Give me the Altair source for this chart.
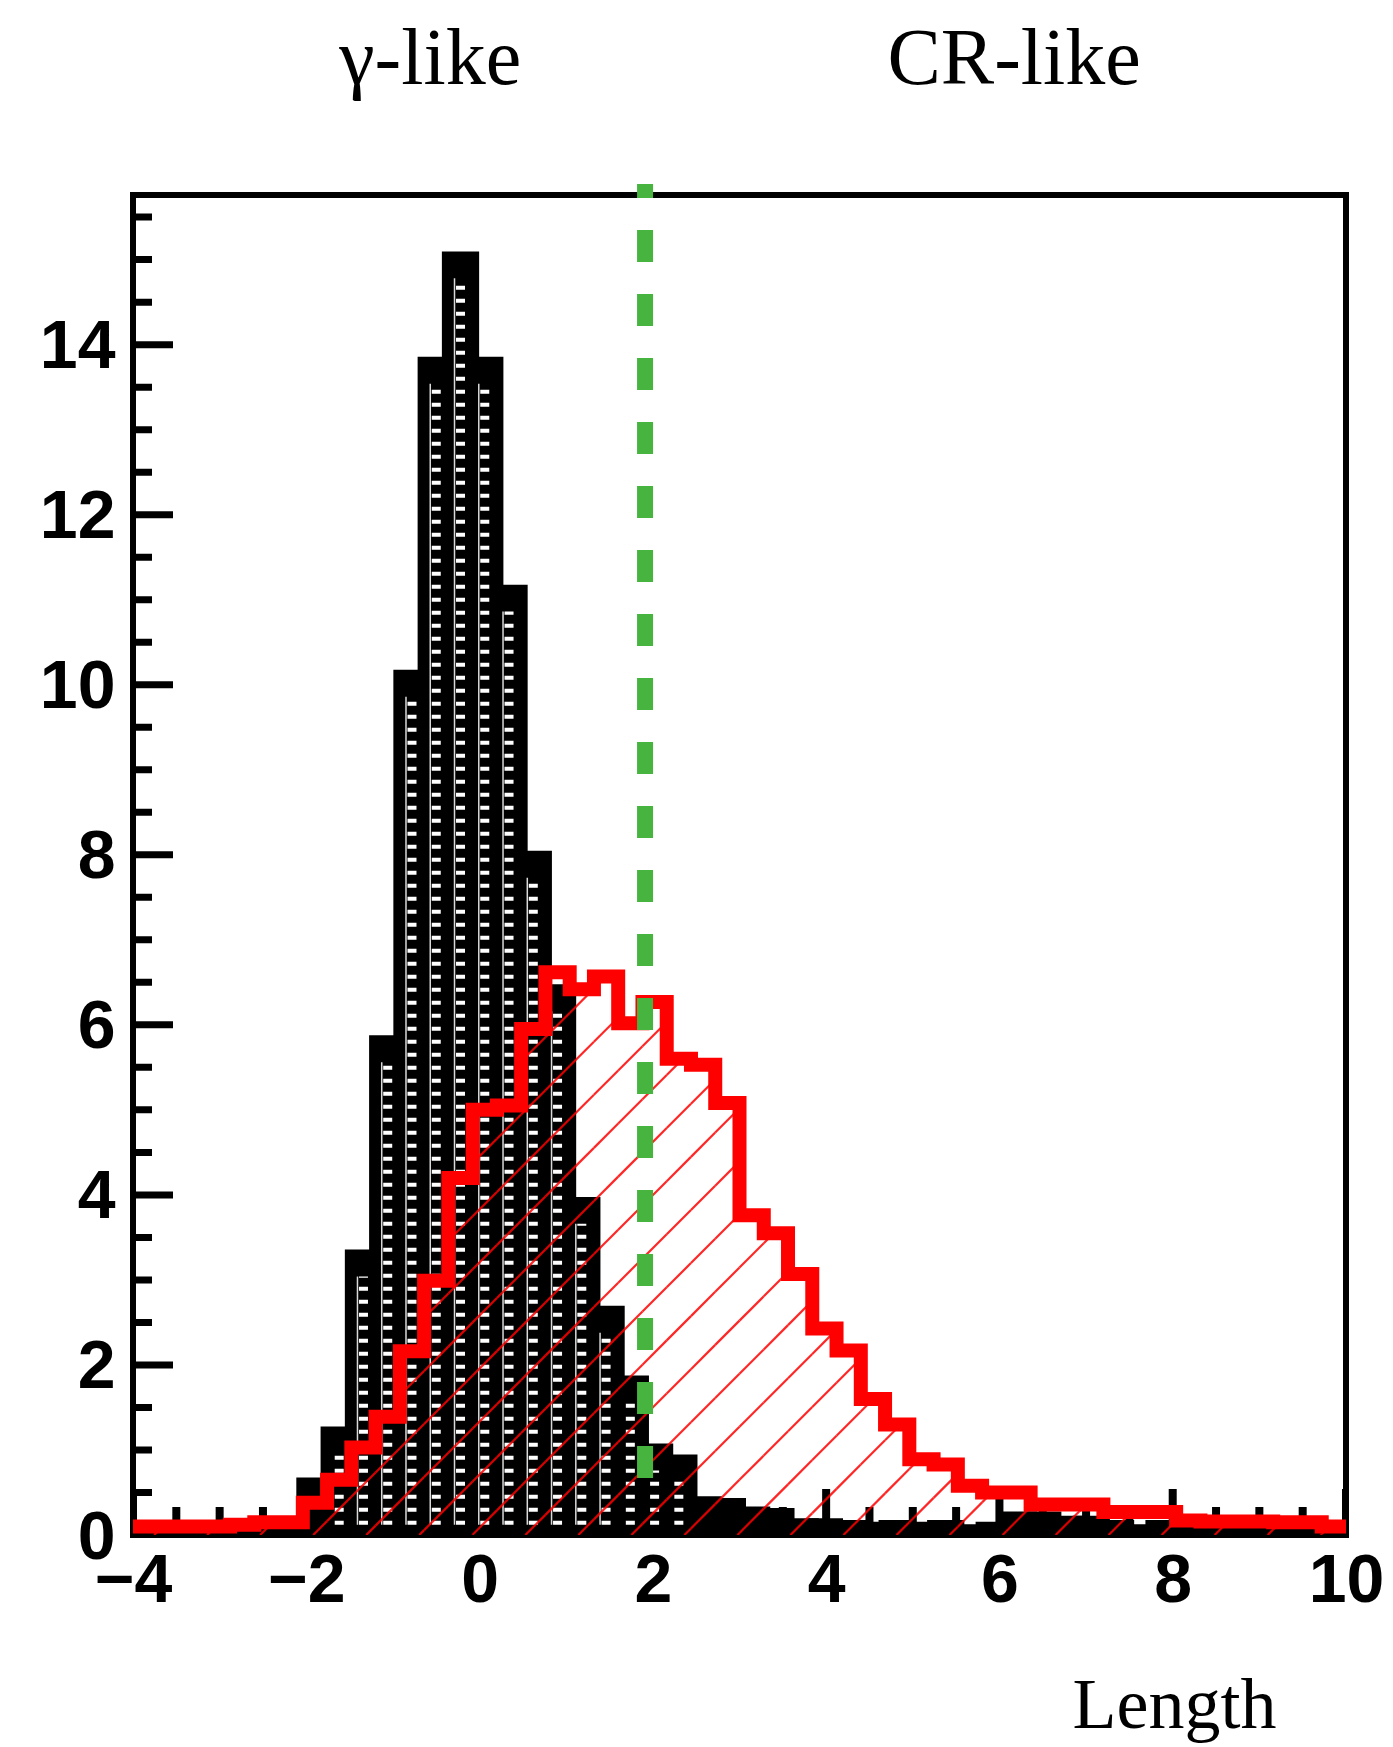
import altair as alt
import numpy as np
import pandas as pd

# Histogram binning: 50 bins of width 0.28 on [-4, 10]
BIN_START = -4.0
BIN_WIDTH = 0.28
N_BINS = 50

# Gamma-ray simulation (black, patterned) and cosmic-ray data (red, hatched)
gamma_counts = [0, 0, 0, 0, 0, 0.05, 0.1, 0.6, 1.2, 3.28,
                5.8, 10.1, 13.78, 15.02, 13.78, 11.1, 7.97, 6.4, 3.9, 2.62,
                1.8, 1.0, 0.87, 0.38, 0.36, 0.26, 0.24, 0.12, 0.12, 0.1,
                0.08, 0.1, 0.08, 0.1, 0.05, 0.08, 0.2, 0.2, 0.15, 0.15,
                0.1, 0.05, 0.1, 0.05, 0.08, 0.05, 0.05, 0.02, 0.03, 0.0]
cr_counts = [0.1, 0.1, 0.1, 0.1, 0.12, 0.15, 0.15, 0.38, 0.65, 1.03,
             1.39, 2.16, 2.99, 4.2, 5.0, 5.05, 5.95, 6.62, 6.42, 6.57,
             6.02, 6.27, 5.6, 5.53, 5.08, 3.76, 3.55, 3.07, 2.43, 2.17,
             1.6, 1.3, 0.89, 0.83, 0.58, 0.5, 0.5, 0.36, 0.36, 0.36,
             0.27, 0.27, 0.27, 0.17, 0.16, 0.16, 0.16, 0.15, 0.15, 0.1]

# Selection cut on Length
CUT_X = 1.91
CUT_Y = [0.67, 15.89]

# Axis ticks
X_MAJOR = [-4, -2, 0, 2, 4, 6, 8, 10]
X_MINOR = [-3.5, -3, -2.5, -1.5, -1, -0.5, 0.5, 1, 1.5, 2.5, 3, 3.5,
           4.5, 5, 5.5, 6.5, 7, 7.5, 8.5, 9, 9.5]
Y_MAJOR = [0, 2, 4, 6, 8, 10, 12, 14]
Y_MINOR = [0.5, 1, 1.5, 2.5, 3, 3.5, 4.5, 5, 5.5, 6.5, 7, 7.5, 8.5, 9, 9.5,
           10.5, 11, 11.5, 12.5, 13, 13.5, 14.5, 15, 15.5]

# Region annotations above the frame
region_labels = ["γ-like", "CR-like"]
region_x = [-0.57, 6.17]
REGION_Y = 17.07

X_DOMAIN = [-4, 10]
Y_DOMAIN = [0, 15.76]

# Hatch geometry for the red histogram fill
HATCH_ORIGIN = -1.92
HATCH_STEP = 0.612
HATCH_SLOPE = 1.02

edges = BIN_START + BIN_WIDTH * np.arange(N_BINS)
bins = pd.DataFrame({
    "lo": edges,
    "hi": edges + BIN_WIDTH,
    "mid": edges + BIN_WIDTH / 2,
    "gamma": gamma_counts,
    "cr": cr_counts,
})

# Step outline of the red histogram
step = pd.DataFrame({
    "x": list(edges) + [X_DOMAIN[1]],
    "v": list(cr_counts) + [cr_counts[-1]],
})

# Hatch segments clipped to each red bin
seg_rows = []
vmax = max(cr_counts)
i_lo = int(np.floor((X_DOMAIN[0] - vmax / HATCH_SLOPE - HATCH_ORIGIN) / HATCH_STEP)) - 1
i_hi = int(np.ceil((X_DOMAIN[1] - HATCH_ORIGIN) / HATCH_STEP)) + 1
for i in range(i_lo, i_hi + 1):
    c = HATCH_ORIGIN + i * HATCH_STEP
    for a, b, v in zip(bins["lo"], bins["hi"], cr_counts):
        xlo = max(a, c)
        xhi = min(b, c + v / HATCH_SLOPE)
        if xhi > xlo:
            seg_rows.append({"x1": xlo, "y1": HATCH_SLOPE * (xlo - c),
                             "x2": xhi, "y2": HATCH_SLOPE * (xhi - c)})
hatch = pd.DataFrame(seg_rows)

x_ticks = pd.DataFrame({"x": X_MAJOR + X_MINOR,
                        "kind": ["major"] * len(X_MAJOR) + ["minor"] * len(X_MINOR),
                        "base": 0.0})
y_ticks = pd.DataFrame({"y": Y_MAJOR + Y_MINOR,
                        "kind": ["major"] * len(Y_MAJOR) + ["minor"] * len(Y_MINOR),
                        "base": float(X_DOMAIN[0])})

cut = pd.DataFrame({"x": [CUT_X], "y": [CUT_Y[0]], "y2": [CUT_Y[1]]})
regions = pd.DataFrame({"label": region_labels, "x": region_x, "y": REGION_Y})

x_scale = alt.Scale(domain=X_DOMAIN, nice=False, zero=False)
y_scale = alt.Scale(domain=Y_DOMAIN, nice=False, zero=False)

LABEL_FONT = "Liberation Sans"
SERIF = "Liberation Serif"

x_axis = alt.Axis(values=X_MAJOR, labelFont=LABEL_FONT, labelFontWeight="bold",
                  labelFontSize=68, labelColor="black", labelPadding=12,
                  labelFlush=False, labelOverlap=False, ticks=False, domain=False,
                  grid=False, title="Length", titleFont=SERIF, titleFontSize=72,
                  titleFontWeight="normal", titleColor="black", titleX=1041,
                  titleY=192, titleAlign="center", titleBaseline="alphabetic")
y_axis = alt.Axis(values=Y_MAJOR, labelFont=LABEL_FONT, labelFontWeight="bold",
                  labelFontSize=68, labelColor="black", labelPadding=18,
                  labelOffset=3, labelOverlap=False, ticks=False, domain=False,
                  grid=False, title="")


def X(field):
    return alt.X(field, type="quantitative", scale=x_scale, axis=x_axis)


def Y(field):
    return alt.Y(field, type="quantitative", scale=y_scale, axis=y_axis)


# Inward-pointing ticks (half of each tick falls outside the frame and is clipped)
x_major_ticks = alt.Chart(x_ticks).transform_filter("datum.kind == 'major'").mark_tick(
    orient="vertical", size=92, thickness=8, color="black", clip=True, opacity=1
).encode(x=X("x"), y=Y("base"))
x_minor_ticks = alt.Chart(x_ticks).transform_filter("datum.kind == 'minor'").mark_tick(
    orient="vertical", size=56, thickness=8, color="black", clip=True, opacity=1
).encode(x=X("x"), y=Y("base"))
y_major_ticks = alt.Chart(y_ticks).transform_filter("datum.kind == 'major'").mark_tick(
    orient="horizontal", size=80, thickness=7, color="black", clip=True, opacity=1
).encode(x=X("base"), y=Y("y"))
y_minor_ticks = alt.Chart(y_ticks).transform_filter("datum.kind == 'minor'").mark_tick(
    orient="horizontal", size=38, thickness=7, color="black", clip=True, opacity=1
).encode(x=X("base"), y=Y("y"))

gamma_bars = alt.Chart(bins).mark_rect(
    fill="black", stroke="black", strokeWidth=13, strokeJoin="miter", clip=True
).encode(x=X("lo"), x2="hi:Q", y=Y("gamma"), y2=alt.datum(0))

# Light fill pattern inside each gamma bin: a dashed column plus a thin line
pattern_base = alt.Chart(bins).transform_filter("datum.gamma > 0.7").transform_calculate(
    top="datum.gamma - 0.24", bottom="0.12"
)
gamma_pattern = pattern_base.mark_rule(
    color="white", strokeWidth=9, strokeDash=[4, 9], clip=True
).encode(x=X("mid"), y=Y("bottom"), y2="top:Q")
gamma_pattern_line = pattern_base.transform_filter("datum.gamma > 2").mark_rule(
    color="white", strokeWidth=1.5, xOffset=-6, opacity=0.85, clip=True
).encode(x=X("mid"), y=Y("bottom"), y2="top:Q")

cr_hatch = alt.Chart(hatch).mark_rule(
    color="#ff0000", strokeWidth=2.2, opacity=0.85, clip=True
).encode(x=X("x1"), y=Y("y1"), x2="x2:Q", y2="y2:Q")

cr_line = alt.Chart(step).mark_line(
    interpolate="step-after", color="#ff0000", strokeWidth=14,
    strokeJoin="miter", strokeCap="butt", clip=True
).encode(x=X("x"), y=Y("v"))

cut_line = alt.Chart(cut).mark_rule(
    color="#46b43e", strokeWidth=16, strokeDash=[32, 32]
).encode(x=X("x"), y=Y("y"), y2="y2:Q")

region_text = alt.Chart(regions).mark_text(
    font=SERIF, fontSize=80, baseline="alphabetic", align="center", color="black"
).encode(x=X("x"), y=Y("y"), text="label:N")

chart = alt.layer(
    gamma_bars, x_major_ticks, x_minor_ticks, y_major_ticks, y_minor_ticks,
    gamma_pattern, gamma_pattern_line, cr_hatch, cr_line, cut_line, region_text
).properties(
    width=1213,
    height=1340,
    padding={"left": 133, "top": 195, "right": 47, "bottom": 212},
    autosize=alt.AutoSizeParams(type="none"),
    background="white",
).configure_view(stroke="black", strokeWidth=6)

chart.save("out.html", embed_options={"renderer": "svg", "actions": False})
